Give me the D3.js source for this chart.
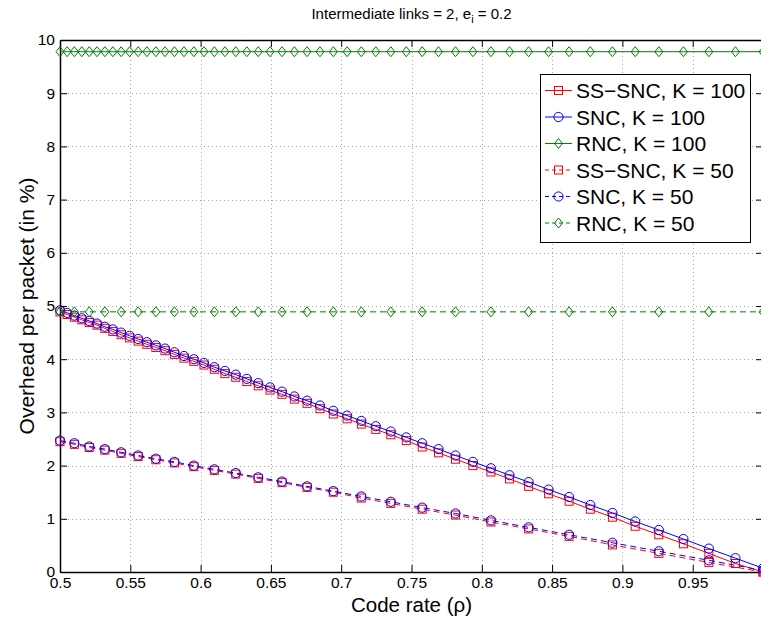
<!DOCTYPE html>
<html><head><meta charset="utf-8">
<script src="https://d3js.org/d3.v7.min.js"></script>
<style>
body{margin:0;background:#fff;}
svg{display:block;font-family:"Liberation Sans",Arial,Helvetica,sans-serif;}
</style></head>
<body><svg id="chart" width="761" height="620"></svg>
<script>
// ---- data ----
const rhoK100 = [0.5,0.5051,0.5102,0.5155,0.5208,0.5263,0.5319,0.5376,0.5435,0.5495,0.5556,0.5618,0.5682,0.5747,0.5814,0.5882,0.5952,0.6024,0.6098,0.6173,0.625,0.6329,0.6410,0.6494,0.6579,0.6667,0.6757,0.6849,0.6944,0.7042,0.7143,0.7246,0.7353,0.7463,0.7576,0.7692,0.7813,0.7937,0.8065,0.8197,0.8333,0.8475,0.8621,0.8772,0.8929,0.9091,0.9259,0.9434,0.9615,0.9804,1.0];
const ssSncK100 = [4.89,4.84,4.79,4.74,4.69,4.64,4.58,4.52,4.46,4.40,4.34,4.28,4.22,4.16,4.09,4.02,3.96,3.89,3.81,3.73,3.66,3.58,3.50,3.42,3.34,3.25,3.17,3.07,2.97,2.88,2.78,2.68,2.58,2.47,2.35,2.24,2.12,2.00,1.88,1.75,1.61,1.47,1.33,1.18,1.03,0.86,0.70,0.53,0.35,0.16,0.0];
const sncK100 = [4.92,4.87,4.82,4.77,4.72,4.67,4.61,4.56,4.50,4.44,4.38,4.32,4.26,4.20,4.13,4.06,4.00,3.93,3.85,3.78,3.71,3.63,3.55,3.47,3.39,3.30,3.22,3.13,3.03,2.94,2.84,2.74,2.64,2.53,2.42,2.31,2.19,2.07,1.95,1.82,1.69,1.55,1.41,1.26,1.11,0.95,0.79,0.62,0.44,0.26,0.07];
const rncK100 = [9.78,9.78,9.78,9.78,9.78,9.78,9.78,9.78,9.78,9.78,9.78,9.78,9.78,9.78,9.78,9.78,9.78,9.78,9.78,9.78,9.78,9.78,9.78,9.78,9.78,9.78,9.78,9.78,9.78,9.78,9.78,9.78,9.78,9.78,9.78,9.78,9.78,9.78,9.78,9.78,9.78,9.78,9.78,9.78,9.78,9.78,9.78,9.78,9.78,9.78,9.78];

const rhoK50 = [0.5,0.5102,0.5208,0.5319,0.5435,0.5556,0.5682,0.5814,0.5952,0.6098,0.625,0.6410,0.6579,0.6757,0.6944,0.7143,0.7353,0.7576,0.7813,0.8065,0.8333,0.8621,0.8929,0.9259,0.9615,1.0];
const ssSncK50 = [2.45,2.40,2.34,2.29,2.23,2.17,2.11,2.05,1.98,1.91,1.84,1.76,1.68,1.59,1.50,1.39,1.29,1.18,1.07,0.94,0.81,0.67,0.51,0.35,0.18,0.0];
const sncK50 = [2.47,2.42,2.36,2.31,2.25,2.19,2.13,2.07,2.00,1.93,1.86,1.78,1.70,1.61,1.52,1.42,1.32,1.21,1.10,0.97,0.84,0.70,0.55,0.39,0.22,0.03];
const rncK50 = [4.89,4.89,4.89,4.89,4.89,4.89,4.89,4.89,4.89,4.89,4.89,4.89,4.89,4.89,4.89,4.89,4.89,4.89,4.89,4.89,4.89,4.89,4.89,4.89,4.89,4.89];

const seriesNames = ["SS\u2212SNC, K = 100","SNC, K = 100","RNC, K = 100","SS\u2212SNC, K = 50","SNC, K = 50","RNC, K = 50"];
const xTicks = [0.5,0.55,0.6,0.65,0.7,0.75,0.8,0.85,0.9,0.95,1.0];
const xTickLabels = ["0.5","0.55","0.6","0.65","0.7","0.75","0.8","0.85","0.9","0.95",""];
const yTicks = [0,1,2,3,4,5,6,7,8,9,10];
const yTickLabels = ["0","1","2","3","4","5","6","7","8","9","10"];
const titleMain = "Intermediate links = 2, e";
const titleSub = "i";
const titleTail = " = 0.2";
const xLabel = "Code rate (\u03c1)";
const yLabel = "Overhead per packet (in %)";

// ---- drawing ----
const series = [
  {name:seriesNames[0], xs:rhoK100, ys:ssSncK100, color:"#ff0000", dash:null, marker:"square"},
  {name:seriesNames[1], xs:rhoK100, ys:sncK100, color:"#0000ff", dash:null, marker:"circle"},
  {name:seriesNames[2], xs:rhoK100, ys:rncK100, color:"#008000", dash:null, marker:"diamond"},
  {name:seriesNames[3], xs:rhoK50, ys:ssSncK50, color:"#ff0000", dash:"6,4", marker:"square"},
  {name:seriesNames[4], xs:rhoK50, ys:sncK50, color:"#0000ff", dash:"6,4", marker:"circle"},
  {name:seriesNames[5], xs:rhoK50, ys:rncK50, color:"#008000", dash:"6,4", marker:"diamond"}
];

const L = 60, R = 763, T = 40, B = 572;
const x = d3.scaleLinear().domain([0.5,1]).range([L,R]);
const y = d3.scaleLinear().domain([0,10]).range([B,T]);
const svg = d3.select("#chart");

// grid
const grid = svg.append("g").attr("stroke","#a8a8a8").attr("stroke-width",1).attr("stroke-dasharray","1,3");
xTicks.slice(1,-1).forEach(t=>grid.append("line").attr("x1",Math.round(x(t))+0.5).attr("x2",Math.round(x(t))+0.5).attr("y1",T).attr("y2",B));
yTicks.slice(1,-1).forEach(t=>grid.append("line").attr("y1",Math.round(y(t))+0.5).attr("y2",Math.round(y(t))+0.5).attr("x1",L).attr("x2",R));

// axes
const tl = 7;
const xAxisB = d3.axisBottom(x).tickValues(xTicks).tickFormat((d,i)=>xTickLabels[i]).tickSizeInner(-tl).tickSizeOuter(0).tickPadding(5);
const xAxisT = d3.axisTop(x).tickValues(xTicks).tickFormat("").tickSizeInner(-tl).tickSizeOuter(0);
const yAxisL = d3.axisLeft(y).tickValues(yTicks).tickFormat((d,i)=>yTickLabels[i]).tickSizeInner(-tl).tickSizeOuter(0).tickPadding(5);
const yAxisR = d3.axisRight(y).tickValues(yTicks).tickFormat("").tickSizeInner(-tl).tickSizeOuter(0);
function styleAxis(g){
  g.select(".domain").attr("stroke","#000").attr("stroke-width",1.5);
  g.selectAll(".tick line").attr("stroke","#000").attr("stroke-width",1);
  g.selectAll(".tick text").attr("fill","#000").attr("font-size","15.5px").attr("font-family","Liberation Sans, Arial, sans-serif");
}
svg.append("g").attr("transform",`translate(0,${B})`).call(xAxisB).call(styleAxis);
svg.append("g").attr("transform",`translate(0,${T})`).call(xAxisT).call(styleAxis);
svg.append("g").attr("transform",`translate(${L},0)`).call(yAxisL).call(styleAxis);
svg.append("g").attr("transform",`translate(${R},0)`).call(yAxisR).call(styleAxis);

// markers
function drawMarker(g, type, cx, cy, color){
  if(type==="square"){
    g.append("rect").attr("x",cx-4).attr("y",cy-4).attr("width",8).attr("height",8)
      .attr("fill","none").attr("stroke",color).attr("stroke-width",1);
  } else if(type==="circle"){
    g.append("circle").attr("cx",cx).attr("cy",cy).attr("r",4.6)
      .attr("fill","none").attr("stroke",color).attr("stroke-width",1);
  } else {
    g.append("path").attr("d",`M${cx},${cy-5} L${cx+4},${cy} L${cx},${cy+5} L${cx-4},${cy} Z`)
      .attr("fill","none").attr("stroke",color).attr("stroke-width",1);
  }
}

const line = d3.line().x(d=>x(d[0])).y(d=>y(d[1]));
series.forEach(s=>{
  const g = svg.append("g");
  const pts = s.xs.map((v,i)=>[v,s.ys[i]]);
  g.append("path").attr("d",line(pts)).attr("fill","none").attr("stroke",s.color)
    .attr("stroke-width",1).attr("stroke-dasharray",s.dash);
  pts.forEach(p=>drawMarker(g,s.marker,x(p[0]),y(p[1]),s.color));
});

// legend
const lg = svg.append("g");
lg.append("rect").attr("x",540.5).attr("y",74.5).attr("width",210).attr("height",168)
  .attr("fill","#fff").attr("stroke","#000").attr("stroke-width",1);
series.forEach((s,i)=>{
  const cy = 90.5 + i*26.5;
  lg.append("line").attr("x1",545).attr("x2",572).attr("y1",cy).attr("y2",cy)
    .attr("stroke",s.color).attr("stroke-width",1).attr("stroke-dasharray",s.dash?"4,3":null);
  drawMarker(lg,s.marker,558.5,cy,s.color);
  lg.append("text").attr("x",576).attr("y",cy).attr("dy","0.36em")
    .attr("font-size","21px").attr("fill","#000").text(s.name);
});

// title
const title = svg.append("text").attr("x",(L+R)/2).attr("y",19).attr("text-anchor","middle")
  .attr("font-size","15px").attr("fill","#000");
title.append("tspan").text(titleMain);
title.append("tspan").attr("font-size","11px").attr("dy",4).text(titleSub);
title.append("tspan").attr("dy",-4).text(titleTail);

// axis labels
svg.append("text").attr("x",(L+R)/2).attr("y",612).attr("text-anchor","middle")
  .attr("font-size","20.5px").attr("fill","#000").text(xLabel);
svg.append("text").attr("transform",`translate(34,${(T+B)/2}) rotate(-90)`).attr("text-anchor","middle")
  .attr("font-size","21px").attr("fill","#000").text(yLabel);
</script></body></html>
